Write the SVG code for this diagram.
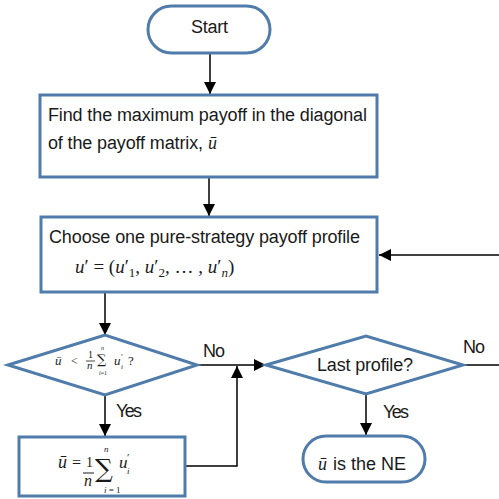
<svg xmlns="http://www.w3.org/2000/svg" width="499" height="499" viewBox="0 0 499 499">
<style>
.node{fill:#fff;stroke:#4f7cab;stroke-width:3}
.t{font-family:"Liberation Sans",Arial,sans-serif;font-size:18px;fill:#1a1a1a}
.m{font-family:"Liberation Serif","Times New Roman",serif;fill:#1a1a1a}
.s{font-family:"DejaVu Serif","Liberation Serif",serif;fill:#1a1a1a}
.i{font-style:italic}
.c{fill:none;stroke:#000;stroke-width:1.5}
</style>
<defs>
<marker id="ah" markerUnits="userSpaceOnUse" markerWidth="12" markerHeight="12" viewBox="0 0 12 12" refX="12" refY="6" orient="auto">
<path d="M0,0 L12,6 L0,12 Z" fill="#000"/>
</marker>
</defs>
<rect width="499" height="499" fill="#fff"/>
<g id="connectors">
<line class="c" x1="210" y1="53" x2="210" y2="94" marker-end="url(#ah)"/>
<line class="c" x1="209" y1="177" x2="209" y2="216" marker-end="url(#ah)"/>
<line class="c" x1="105" y1="292" x2="105" y2="335" marker-end="url(#ah)"/>
<line class="c" x1="197" y1="365" x2="266" y2="365" marker-end="url(#ah)"/>
<line class="c" x1="105" y1="395" x2="105" y2="436" marker-end="url(#ah)"/>
<polyline class="c" points="185,466 237,466 237,366" marker-end="url(#ah)"/>
<line class="c" x1="366" y1="394" x2="366" y2="435" marker-end="url(#ah)"/>
<line class="c" x1="463" y1="365" x2="499" y2="365"/>
<line class="c" x1="499" y1="255" x2="379" y2="255" marker-end="url(#ah)"/>
<text class="t" x="203" y="357" textLength="22">No</text>
<text class="t" x="463" y="353" textLength="22">No</text>
<text class="t" x="116" y="417" textLength="26">Yes</text>
<text class="t" x="383" y="418" textLength="26">Yes</text>
</g>
<g id="start">
<rect class="node" x="148" y="6" width="122" height="47" rx="23.5"/>
<text class="t" x="191" y="33" textLength="37">Start</text>
</g>
<g id="find-max">
<rect class="node" x="40" y="95" width="337" height="82"/>
<text class="t" x="48" y="121" textLength="319">Find the maximum payoff in the diagonal</text>
<text class="t" x="48" y="149" textLength="155">of the payoff matrix,</text>
<text class="m i" x="208" y="149" font-size="18">ū</text>
</g>
<g id="choose-profile">
<rect class="node" x="41" y="217" width="336" height="75"/>
<text class="t" x="49" y="243" textLength="311">Choose one pure-strategy payoff profile</text>
<text class="m" x="75" y="273" font-size="19"><tspan class="i">u</tspan>′ = (<tspan class="i">u</tspan>′<tspan font-size="13" dy="4">1</tspan><tspan dy="-4">, </tspan><tspan class="i">u</tspan>′<tspan font-size="13" dy="4">2</tspan><tspan dy="-4">, … , </tspan><tspan class="i">u</tspan>′<tspan class="i" font-size="13" dy="4">n</tspan><tspan dy="-4">)</tspan></text>
</g>
<g id="compare">
<polygon class="node" points="8,365 105,335 197,365 105,395"/>
<text class="m i" x="55" y="365" font-size="13">ū</text>
<text class="m" x="71" y="365" font-size="12">&lt;</text>
<text class="m" x="88" y="358" font-size="10">1</text>
<line x1="86" y1="361" x2="95" y2="361" stroke="#1a1a1a" stroke-width="0.8"/>
<text class="m i" x="87" y="369" font-size="11">n</text>
<text class="s" x="97" y="364" font-size="13">∑</text>
<text class="m i" x="101" y="350" font-size="6">n</text>
<text class="m" x="99" y="375" font-size="6"><tspan class="i">i</tspan>=1</text>
<text class="m i" x="114" y="365" font-size="13">u</text>
<text class="m" x="121" y="360" font-size="8">′</text>
<text class="m i" x="121" y="369" font-size="7">i</text>
<text class="m" x="128" y="365" font-size="13">?</text>
</g>
<g id="update">
<rect class="node" x="19" y="437" width="166" height="59"/>
<text class="m i" x="58" y="468" font-size="18">ū</text>
<text class="m" x="72" y="468" font-size="16">=</text>
<text class="m" x="86" y="467" font-size="14">1</text>
<line x1="83" y1="473" x2="94" y2="473" stroke="#1a1a1a" stroke-width="1"/>
<text class="m i" x="84" y="486" font-size="16">n</text>
<text class="s" x="95" y="477" font-size="25">∑</text>
<text class="m i" x="104" y="452" font-size="9">n</text>
<text class="m" x="104" y="493" font-size="9"><tspan class="i">i</tspan> = 1</text>
<text class="m i" x="119" y="468" font-size="17">u</text>
<text class="m" x="127" y="461" font-size="11">′</text>
<text class="m i" x="127" y="474" font-size="9">i</text>
</g>
<g id="last-profile">
<polygon class="node" points="266,365 366,336 463,365 366,394"/>
<text class="t" x="317" y="371" textLength="96">Last profile?</text>
</g>
<g id="ne">
<rect class="node" x="303" y="436" width="122" height="46" rx="23"/>
<text class="m i" x="318" y="470" font-size="18">ū</text>
<text class="t" x="333" y="470" textLength="73">is the NE</text>
</g>
</svg>
